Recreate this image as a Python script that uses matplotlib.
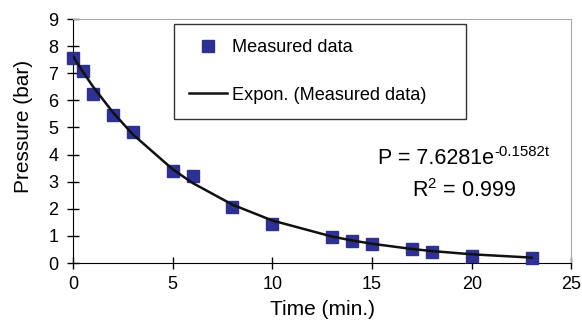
import matplotlib.pyplot as plt
import numpy as np

plt.rcParams['font.family'] = ['Liberation Sans', 'DejaVu Sans']
plt.rcParams['mathtext.default'] = 'regular'

# measured pressure decay
time_min = [0, 0.5, 1, 2, 3, 5, 6, 8, 10, 13, 14, 15, 17, 18, 20, 23]
pressure_bar = [7.55, 7.1, 6.25, 5.45, 4.85, 3.4, 3.2, 2.05, 1.45, 0.95, 0.8, 0.7, 0.5, 0.4, 0.25, 0.2]

# trendline coefficients as printed on the chart
fit_a = 7.6281
fit_k = -0.1582
fit_r2 = 0.999

fig = plt.figure(figsize=(5.82, 3.2), dpi=100)
ax = fig.add_axes([0.1254, 0.178, 0.8565, 0.7626])

t_fit = np.array(time_min, dtype=float)
p_fit = fit_a * np.exp(fit_k * t_fit)

ax.plot(time_min, pressure_bar, 's', color='#2E3192', markersize=9.2,
        label='Measured data', zorder=3, clip_on=False)
ax.plot(t_fit, p_fit, '-', color='#111111', linewidth=1.8,
        label='Expon. (Measured data)', zorder=4)

ax.set_xlim(0, 25)
ax.set_ylim(0, 9)
ax.set_xticks(range(0, 26, 5))
ax.set_yticks(range(0, 10))
ax.tick_params(direction='inout', length=9, width=1, labelsize=13)
ax.tick_params(axis='x', pad=5)
ax.tick_params(axis='y', pad=6)

ax.spines['left'].set_color('black')
ax.spines['bottom'].set_color('black')
ax.spines['top'].set_color('#aaaaaa')
ax.spines['right'].set_color('#aaaaaa')

ax.set_xlabel('Time (min.)', fontsize=15)
ax.set_ylabel('Pressure (bar)', fontsize=15)
ax.xaxis.set_label_coords(0.5, -0.152)
ax.yaxis.set_label_coords(-0.08, 0.559)

leg = ax.legend(loc='upper left', bbox_to_anchor=(0.203, 0.6066, 0.586, 0.3714),
                mode='expand', fontsize=13.1,
                frameon=True, fancybox=False, edgecolor='black',
                labelspacing=1.68, borderpad=0.82, handlelength=2.1,
                handletextpad=0.27, borderaxespad=0)
leg.get_frame().set_linewidth(1)

eq = ax.text(15.3, 3.87, 'P = %.4fe' % fit_a, fontsize=15.5,
             ha='left', va='center')
ax.annotate('%.4ft' % fit_k, xy=(1.0, 1.0), xycoords=eq,
            xytext=(0, -3), textcoords='offset points',
            fontsize=10.8, ha='left', va='center')
ax.text(19.6, 2.69, 'R$^2$ = %.3f' % fit_r2, fontsize=15.5,
        ha='center', va='center')

fig.savefig('out.png', dpi=100)
